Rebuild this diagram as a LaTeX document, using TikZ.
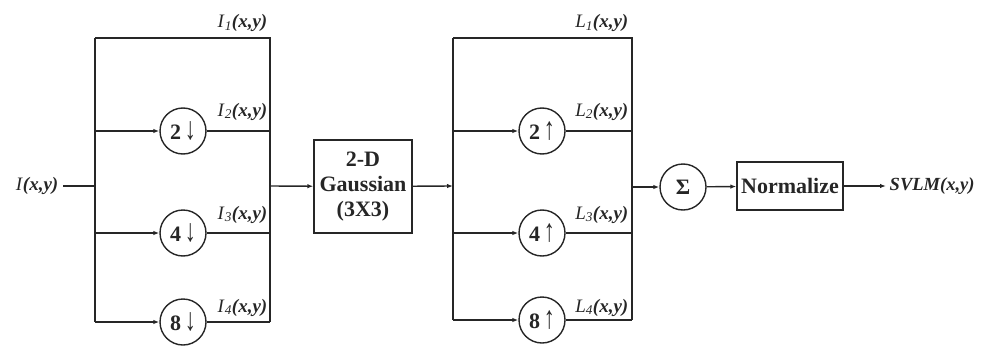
\documentclass[tikz,border=0pt]{standalone}
\usepackage{fontspec}
\setmainfont{Liberation Serif}
\usetikzlibrary{arrows.meta}
\begin{document}
\begin{tikzpicture}[x=1pt,y=-1pt,
  line width=1.4pt, color=black!85,
  arr/.style={-{Latex[length=6pt,width=4.5pt]}},
  op/.style={circle,draw,minimum size=46pt,inner sep=0pt,font=\fontsize{22}{24}\selectfont\bfseries},
  blk/.style={draw,font=\fontsize{22}{25}\selectfont\bfseries,align=center,inner sep=0pt},
  lab/.style={font=\fontsize{19}{21}\selectfont,anchor=base east,inner sep=0pt}]
\useasboundingbox (0,0) rectangle (981,345);
\newcommand{\xylab}[2]{\textit{#1}\textsubscript{\textit{#2}}\textbf{\textit{(x,y)}}}
\newcommand{\tallarr}[1]{\,\scalebox{1}[1.45]{#1}}

% input
\node[font=\fontsize{19}{21}\selectfont,anchor=east,inner sep=0pt] (src) at (59,186) {\textit{I}\textbf{\textit{(x,y)}}};
\coordinate (b1m) at (95,186);
\coordinate (b1t) at (95,38);
\coordinate (b1a) at (95,131);
\coordinate (b1b) at (95,233);
\coordinate (b1c) at (95,322);
\coordinate (r1t) at (270,38);
\coordinate (r1a) at (270,131);
\coordinate (r1b) at (270,233);
\coordinate (r1c) at (270,322);
\coordinate (r1m) at (270,186);

\node[op] (c2d) at (183,131) {2\tallarr{↓}};
\node[op] (c4d) at (183,233) {4\tallarr{↓}};
\node[op] (c8d) at (183,322) {8\tallarr{↓}};

\draw[shorten <=4pt] (src) -- (b1m);
\draw (b1t) -- (b1c);
\draw (b1t) -- (r1t) -- (r1c);
\draw[arr] (b1a) -- (c2d);
\draw[arr] (b1b) -- (c4d);
\draw[arr] (b1c) -- (c8d);
\draw (c2d) -- (r1a);
\draw (c4d) -- (r1b);
\draw (c8d) -- (r1c);

\node[lab] (li1) at (268,28) {\xylab{I}{1}};
\node[lab] (li2) at (268,116) {\xylab{I}{2}};
\node[lab] (li3) at (268,219) {\xylab{I}{3}};
\node[lab] (li4) at (268,312) {\xylab{I}{4}};

% gaussian
\node[blk,minimum width=98pt,minimum height=93pt] (gauss) at (363,186.5) {2-D\\Gaussian\\(3X3)};
\draw[arr] (r1m) -- (gauss);

% second stage
\coordinate (b2m) at (453,186);
\coordinate (b2t) at (453,38);
\coordinate (b2a) at (453,131);
\coordinate (b2b) at (453,233);
\coordinate (b2c) at (453,320);
\coordinate (r2t) at (632,38);
\coordinate (r2a) at (632,131);
\coordinate (r2b) at (632,233);
\coordinate (r2c) at (632,320);
\coordinate (r2m) at (632,187);

\node[op] (c2u) at (542,131) {2\tallarr{↑}};
\node[op] (c4u) at (542,233) {4\tallarr{↑}};
\node[op] (c8u) at (542,320) {8\tallarr{↑}};

\draw[arr] (gauss) -- (b2m);
\draw (b2t) -- (b2c);
\draw (b2t) -- (r2t) -- (r2c);
\draw[arr] (b2a) -- (c2u);
\draw[arr] (b2b) -- (c4u);
\draw[arr] (b2c) -- (c8u);
\draw (c2u) -- (r2a);
\draw (c4u) -- (r2b);
\draw (c8u) -- (r2c);

\node[lab] (ll1) at (629,28) {\xylab{L}{1}};
\node[lab] (ll2) at (629,116) {\xylab{L}{2}};
\node[lab] (ll3) at (629,219) {\xylab{L}{3}};
\node[lab] (ll4) at (629,312) {\xylab{L}{4}};

% output
\node[op] (sum) at (683,187) {Σ};
\node[blk,minimum width=106pt,minimum height=48pt] (norm) at (790,186) {Normalize};
\node[font=\fontsize{18.5}{20}\selectfont\bfseries\itshape,anchor=west,inner sep=3pt] (svlm) at (886,186) {SVLM(x,y)};

\draw[arr] (r2m) -- (sum);
\draw[arr] (sum) -- (norm);
\draw[arr] (norm) -- (svlm);
\end{tikzpicture}
\end{document}
